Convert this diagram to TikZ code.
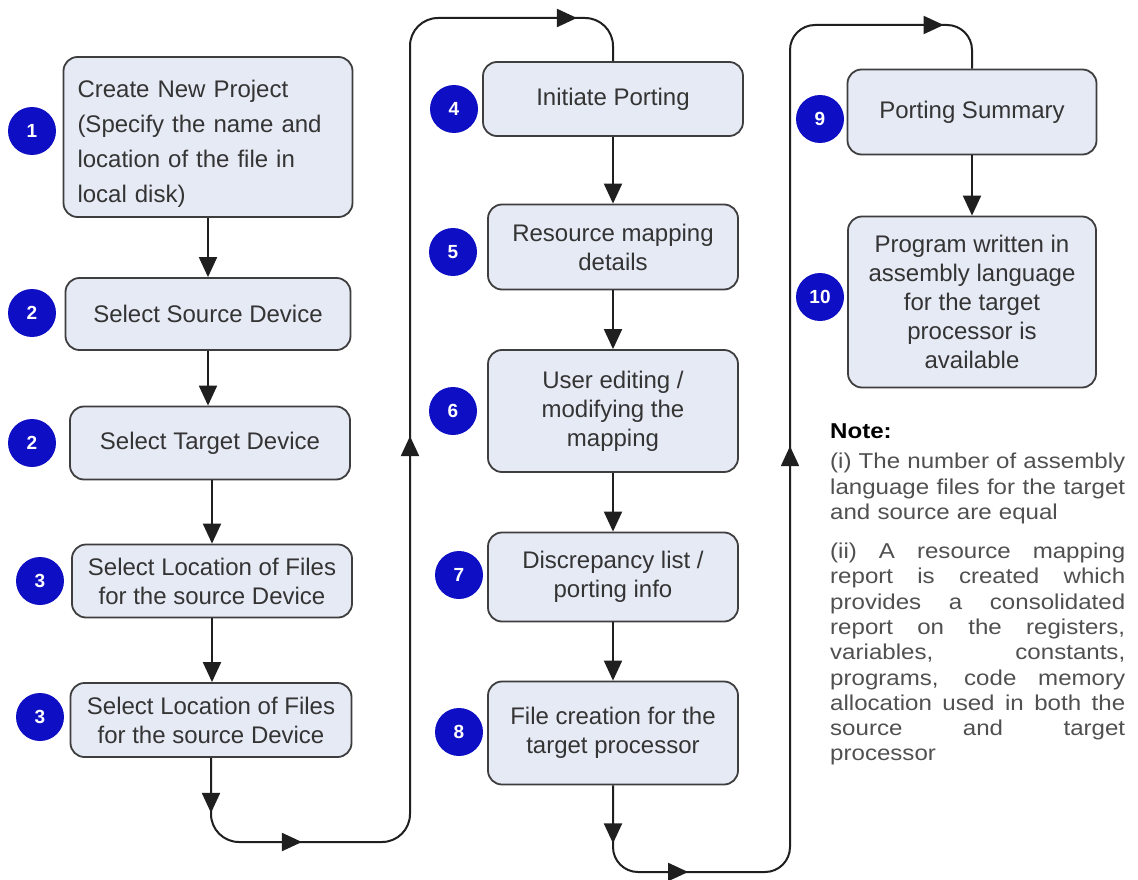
\documentclass[tikz,border=0pt]{standalone}
\usepackage{fontspec}
\setmainfont{Liberation Sans}
\newfontfamily\notefont[FakeStretch=1.12]{Liberation Sans}
\usetikzlibrary{arrows.meta,decorations.markings}
\setlength\parindent{0pt}
% one fully justified line of the note column
\newcommand\jline[1]{\makebox[295pt][s]{\spaceskip=0pt\xspaceskip=0pt #1}}

\definecolor{boxfill}{RGB}{230,234,245}
\definecolor{boxline}{RGB}{62,62,62}
\definecolor{boxtext}{RGB}{52,52,52}
\definecolor{badgeblue}{RGB}{14,14,196}
\definecolor{notegray}{RGB}{80,80,80}

\begin{document}
\begin{tikzpicture}[x=1pt,y=-1pt,
  stepbox/.style={draw=boxline, fill=boxfill, line width=1.8pt, rounded corners=14pt,
    align=center, text=boxtext, font=\fontsize{24}{29}\selectfont, inner sep=0pt},
  badge/.style={circle, fill=badgeblue, minimum size=48pt, inner sep=0pt,
    text=white, font=\fontsize{19}{19}\selectfont\bfseries},
  flow/.style={draw=black!88, line width=2pt},
  headtip/.style={-{Triangle[length=20pt,width=18pt]}},
  arrowat/.style={postaction={decorate, decoration={markings,
    mark=at position #1 with {\arrow{Triangle[length=20pt,width=18pt]}}}}},
]
\useasboundingbox[fill=white] (0,0) rectangle (1138,880);

% ---- first column: project set-up ----
\node[stepbox, minimum width=289pt, minimum height=160pt, align=left, text width=261pt,
  font=\fontsize{24}{35}\selectfont] (b1) at (208,137)
  {\rule{0pt}{31pt}Create New Project\\(Specify the name and\\location of the file in\\local disk)};
\node[stepbox, minimum width=285pt, minimum height=72pt] (b2) at (208,314) {Select Source Device};
\node[stepbox, minimum width=280pt, minimum height=73pt] (b3) at (210,443) {Select Target Device};
\node[stepbox, minimum width=280pt, minimum height=73pt] (b4) at (212,581)
  {Select Location of Files\\for the source Device};
\node[stepbox, minimum width=281pt, minimum height=74pt] (b5) at (211,720)
  {Select Location of Files\\for the source Device};

% ---- second column: porting ----
\node[stepbox, minimum width=260pt, minimum height=74pt] (p4) at (613,99) {Initiate Porting};
\node[stepbox, minimum width=250pt, minimum height=85pt] (p5) at (613,247) {Resource mapping\\details};
\node[stepbox, minimum width=250pt, minimum height=122pt] (p6) at (613,411) {User editing /\\modifying the\\mapping};
\node[stepbox, minimum width=250pt, minimum height=89pt] (p7) at (613,577) {Discrepancy list /\\porting info};
\node[stepbox, minimum width=250pt, minimum height=103pt] (p8) at (613,733) {File creation for the\\target processor};

% ---- third column: results ----
\node[stepbox, minimum width=249pt, minimum height=85pt] (s9) at (972,112) {Porting Summary};
\node[stepbox, minimum width=248pt, minimum height=171pt] (s10) at (972,302)
  {Program written in\\assembly language\\for the target\\processor is\\available};

% ---- step badges ----
\node[badge] (n1)  at (32,131)  {1};
\node[badge] (n2a) at (32,313)  {2};
\node[badge] (n2b) at (32,443)  {2};
\node[badge] (n3a) at (40,581)  {3};
\node[badge] (n3b) at (40,717)  {3};
\node[badge] (n4)  at (454,109) {4};
\node[badge] (n5)  at (453,252) {5};
\node[badge] (n6)  at (453,411) {6};
\node[badge] (n7)  at (459,575) {7};
\node[badge] (n8)  at (459,732) {8};
\node[badge] (n9)  at (820,119) {9};
\node[badge] (n10) at (820,297) {10};

% ---- straight arrows inside the columns ----
\draw[flow, headtip] (b1.south) -- (b1.south |- b2.north);
\draw[flow, headtip] (b2.south) -- (b2.south |- b3.north);
\draw[flow, headtip] (b3.south -| b4.south) -- (b4.north);
\draw[flow, headtip] (b4.south) -- (b4.south |- b5.north);
\draw[flow, headtip] (p4.south) -- (p5.north);
\draw[flow, headtip] (p5.south) -- (p6.north);
\draw[flow, headtip] (p6.south) -- (p7.north);
\draw[flow, headtip] (p7.south) -- (p8.north);
\draw[flow, headtip] (s9.south) -- (s10.north);

% ---- loop-over connectors between the columns ----
\coordinate (ua) at (b5.south |- 0,842);
\coordinate (ub) at (410,842);
\coordinate (uc) at (410,18);
\coordinate (ud) at (p4.north |- uc);
\draw[flow, rounded corners=28pt, arrowat=55pt, arrowat=163pt, arrowat=665pt, arrowat=1238pt]
  (b5.south) -- (ua) -- (ub) -- (uc) -- (ud) -- (p4.north);

\coordinate (va) at (p8.south |- 0,872);
\coordinate (vb) at (790,872);
\coordinate (vc) at (790,25);
\coordinate (vd) at (s9.north |- vc);
\draw[flow, rounded corners=25pt, arrowat=58pt, arrowat=151pt, arrowat=668pt, arrowat=1232pt]
  (p8.south) -- (va) -- (vb) -- (vc) -- (vd) -- (s9.north);

% ---- note ----
\node[anchor=north west, inner sep=0pt, text width=295pt, align=left, text=notegray,
  font=\notefont\fontsize{21.5}{25.3}\selectfont] (note) at (830,424) {%
  \textcolor{black}{\bfseries Note:}\\[4.7pt]
  \jline{(i) The number of assembly}\\
  \jline{language files for the target}\\
  and source are equal\\[13.7pt]
  \jline{(ii) A resource mapping}\\
  \jline{report is created which}\\
  \jline{provides a consolidated}\\
  \jline{report on the registers,}\\
  \jline{variables, constants,}\\
  \jline{programs, code memory}\\
  \jline{allocation used in both the}\\
  \jline{source and target}\\
  processor};
\end{tikzpicture}
\end{document}
